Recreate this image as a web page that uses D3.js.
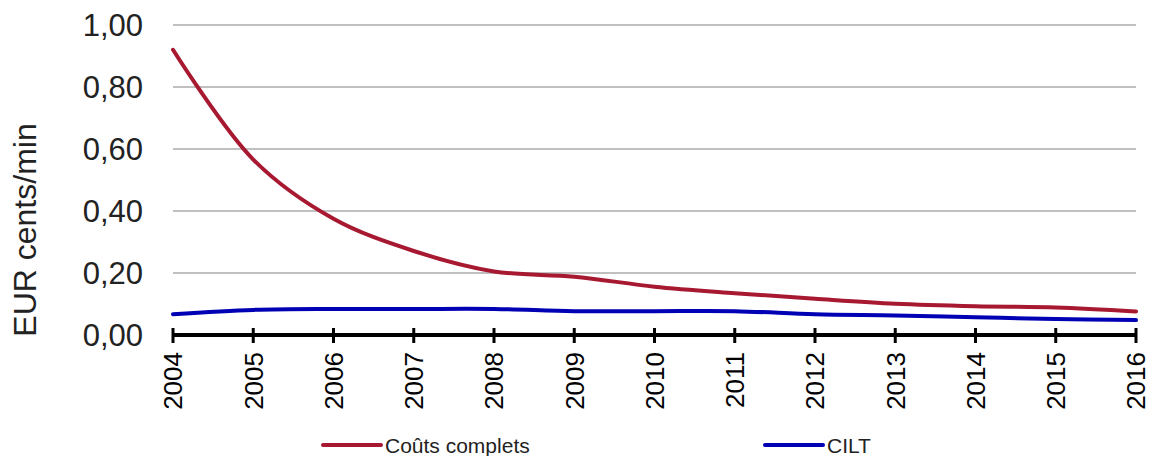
<!DOCTYPE html>
<html>
<head>
<meta charset="utf-8">
<script src="https://cdn.jsdelivr.net/npm/d3@7"></script>
<style>
  html, body { margin: 0; padding: 0; background: #fff; }
  svg { display: block; font-family: "Liberation Sans", Arial, sans-serif; }
</style>
</head>
<body>
<svg id="chart" width="1153" height="456"></svg>
<script>
// Cost per minute, EUR cents
const years = ["2004","2005","2006","2007","2008","2009","2010","2011","2012","2013","2014","2015","2016"];
const coutsComplets = [0.92, 0.566, 0.375, 0.271, 0.205, 0.188, 0.156, 0.135, 0.117, 0.101, 0.093, 0.089, 0.076];
const cilt = [0.067, 0.081, 0.084, 0.084, 0.084, 0.077, 0.077, 0.077, 0.067, 0.063, 0.057, 0.052, 0.048];
const yTicks = [0, 0.2, 0.4, 0.6, 0.8, 1.0];

const series = [
  { name: "Coûts complets", values: coutsComplets, color: "#A71931" },
  { name: "CILT", values: cilt, color: "#0000B4" }
];

const svg = d3.select("#chart");
const plotLeft = 173, plotRight = 1136, plotTop = 25, plotBottom = 335;

const x = d3.scalePoint().domain(years).range([plotLeft, plotRight]);
const y = d3.scaleLinear().domain([0, 1]).range([plotBottom, plotTop]);

// gridlines
svg.append("g").selectAll("line")
  .data(yTicks.filter(d => d > 0))
  .join("line")
  .attr("x1", plotLeft).attr("x2", plotRight)
  .attr("y1", d => y(d)).attr("y2", d => y(d))
  .attr("stroke", "#C0C0C0").attr("stroke-width", 2);

// y tick labels
const fmt = d => d.toFixed(2).replace(".", ",");
svg.append("g").selectAll("text")
  .data(yTicks)
  .join("text")
  .attr("x", 143).attr("y", d => y(d))
  .attr("dy", "0.36em")
  .attr("text-anchor", "end")
  .attr("font-size", 31)
  .attr("fill", "#222")
  .text(fmt);

// y axis title
svg.append("text")
  .attr("transform", "translate(36,230) rotate(-90)")
  .attr("text-anchor", "middle")
  .attr("font-size", 32)
  .attr("fill", "#222")
  .text("EUR cents/min");

// series lines
const line = d3.line()
  .x((d, i) => x(years[i]))
  .y(d => y(d))
  .curve(d3.curveCatmullRom.alpha(0.5));

svg.append("g").selectAll("path")
  .data(series)
  .join("path")
  .attr("d", s => line(s.values))
  .attr("fill", "none")
  .attr("stroke", s => s.color)
  .attr("stroke-width", 4)
  .attr("stroke-linejoin", "round")
  .attr("stroke-linecap", "round");

// x axis
const xAxis = svg.append("g");
xAxis.append("line")
  .attr("x1", plotLeft).attr("x2", plotRight)
  .attr("y1", plotBottom).attr("y2", plotBottom)
  .attr("stroke", "#000").attr("stroke-width", 4);
xAxis.selectAll("line.tick")
  .data(years)
  .join("line")
  .attr("class", "tick")
  .attr("x1", d => x(d)).attr("x2", d => x(d))
  .attr("y1", plotBottom - 7).attr("y2", plotBottom + 8)
  .attr("stroke", "#000").attr("stroke-width", 3);
xAxis.selectAll("text")
  .data(years)
  .join("text")
  .attr("transform", d => `translate(${x(d)},352) rotate(-90)`)
  .attr("dy", "0.36em")
  .attr("text-anchor", "end")
  .attr("font-size", 26)
  .attr("fill", "#000")
  .text(d => d);

// legend
const legendX = [323, 765];
const legend = svg.append("g").selectAll("g")
  .data(series)
  .join("g")
  .attr("transform", (d, i) => `translate(${legendX[i]},445)`);
legend.append("line")
  .attr("x1", 0).attr("x2", 58)
  .attr("stroke", d => d.color)
  .attr("stroke-width", 4)
  .attr("stroke-linecap", "round");
legend.append("text")
  .attr("x", 62).attr("dy", "0.36em")
  .attr("font-size", 21)
  .attr("fill", "#222")
  .text(d => d.name);
</script>
</body>
</html>
